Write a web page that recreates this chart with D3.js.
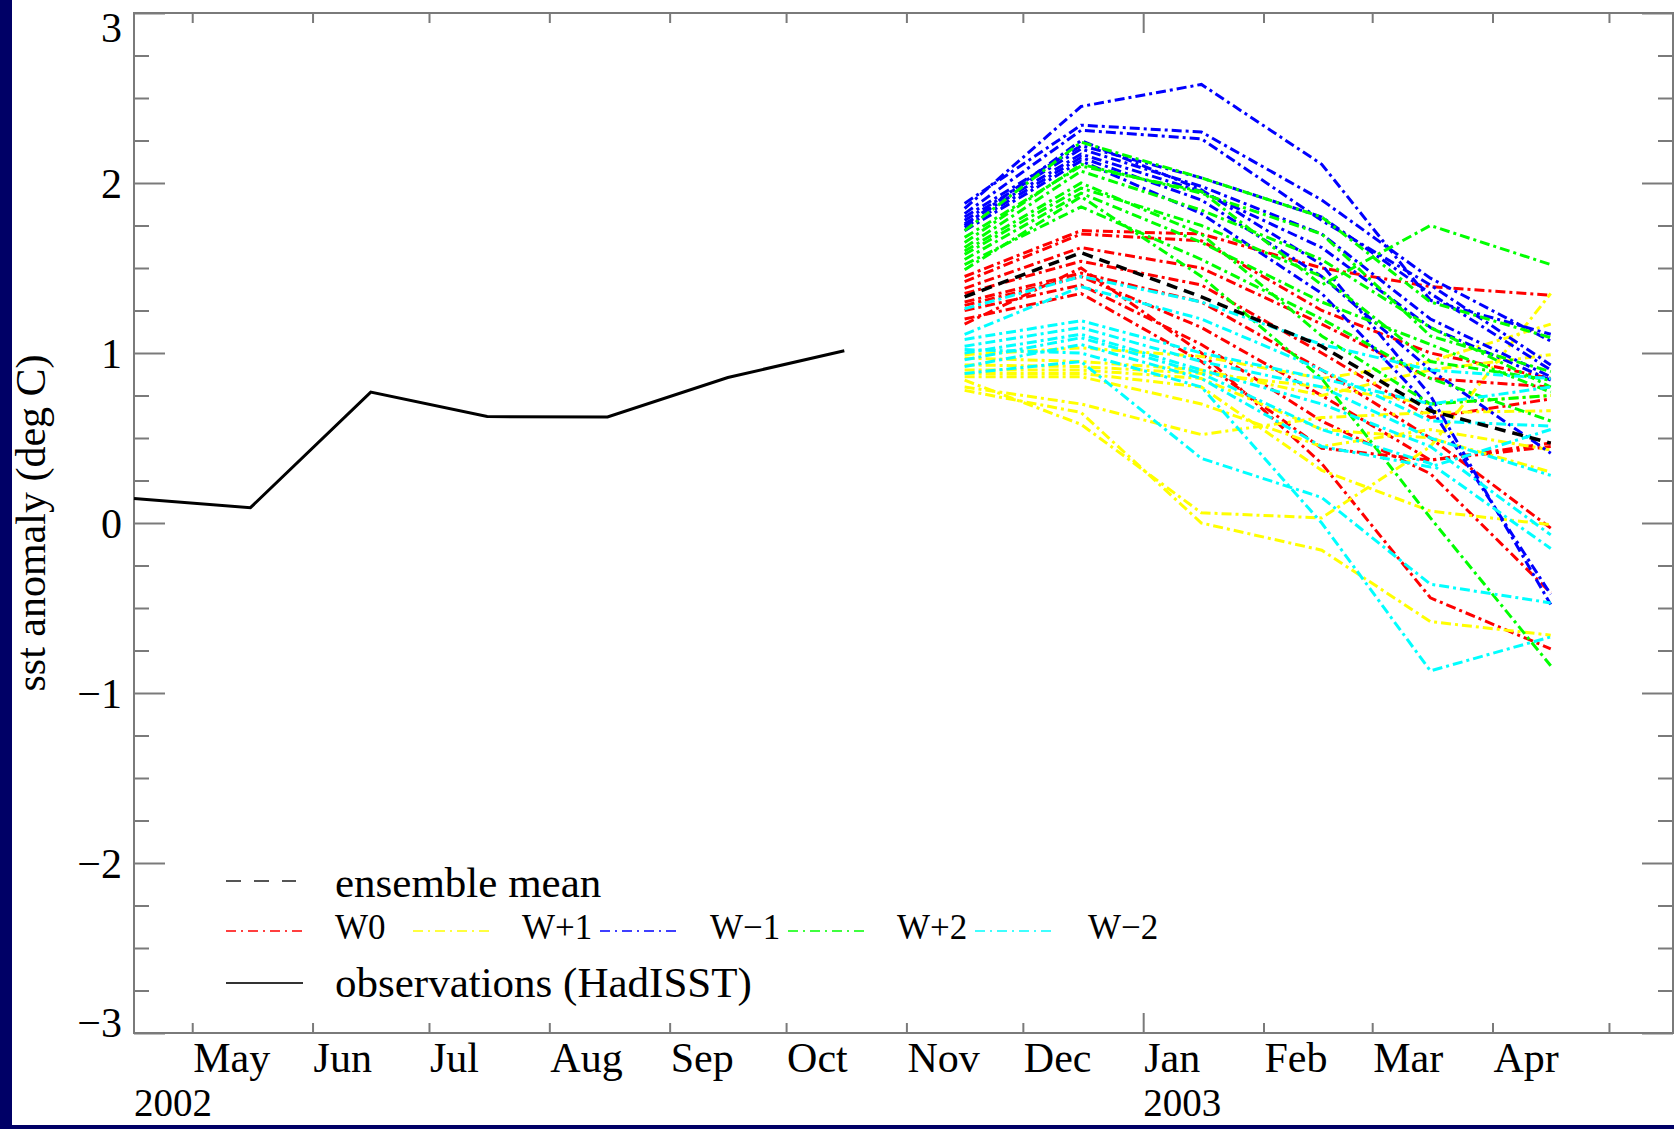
<!DOCTYPE html>
<html><head><meta charset="utf-8">
<script src="https://cdn.jsdelivr.net/npm/d3@7"></script>
<style>html,body{margin:0;padding:0;background:#000066;}svg{display:block}</style>
</head><body><svg id="c" width="1674" height="1129"></svg>
<script>
// ---------- data ----------
const obsDates = ["2002-04-16","2002-05-16","2002-06-16","2002-07-16","2002-08-16","2002-09-16","2002-10-16"];
const obsValues = [0.144, 0.09, 0.77, 0.626, 0.624, 0.856, 1.013];

const fcDates = ["2002-11-16","2002-12-16","2003-01-16","2003-02-16","2003-03-16","2003-04-16"];
const meanValues = [1.33, 1.59, 1.33, 1.04, 0.66, 0.47];

const w0 = [
  [1.45, 1.72, 1.70, 1.50, 1.39, 1.34],
  [1.42, 1.70, 1.66, 1.25, 1.00, 0.85],
  [1.38, 1.62, 1.50, 1.17, 0.85, 0.80],
  [1.35, 1.54, 1.40, 1.00, 0.62, 0.73],
  [1.30, 1.47, 1.30, 0.90, 0.50, -0.03],
  [1.28, 1.45, 1.15, 0.75, 0.37, 0.47],
  [1.25, 1.40, 1.05, 0.60, 0.29, -0.41],
  [1.20, 1.35, 0.95, 0.44, 0.37, 0.45],
  [1.17, 1.50, 1.00, 0.35, -0.44, -0.74]
];
const wPlus1 = [
  [0.99, 1.03, 0.98, 0.85, 0.95, 1.17],
  [0.97, 0.95, 0.90, 0.75, 0.90, 0.99],
  [0.93, 0.92, 0.88, 0.80, 0.70, 0.75],
  [0.90, 0.90, 0.85, 0.55, 0.50, 0.30],
  [0.88, 0.88, 0.80, 0.31, 0.07, -0.01],
  [0.86, 0.86, 0.70, 0.45, 0.55, 0.43],
  [0.80, 0.70, 0.52, 0.62, 0.65, 0.66],
  [0.84, 0.58, 0.06, 0.03, 0.45, 1.35],
  [0.78, 0.65, 0.00, -0.16, -0.58, -0.66]
];
const wMinus1 = [
  [1.85, 2.45, 2.58, 2.11, 1.31, 1.11],
  [1.88, 2.34, 2.30, 1.90, 1.44, 1.07],
  [1.82, 2.31, 2.26, 1.78, 1.40, 0.93],
  [1.80, 2.22, 2.03, 1.80, 1.35, 0.90],
  [1.78, 2.20, 1.98, 1.70, 1.20, 0.86],
  [1.76, 2.17, 1.95, 1.62, 1.15, 0.84],
  [1.74, 2.15, 1.90, 1.45, 0.90, 0.41],
  [1.72, 2.13, 1.82, 1.35, 0.68, -0.42],
  [1.75, 2.25, 1.96, 1.52, 0.75, -0.48]
];
const wPlus2 = [
  [1.68, 2.10, 1.95, 1.40, 1.75, 1.52],
  [1.72, 2.24, 2.03, 1.80, 1.30, 1.09],
  [1.65, 2.11, 1.94, 1.70, 1.10, 0.89],
  [1.62, 2.07, 1.84, 1.55, 1.15, 0.80],
  [1.58, 1.97, 1.75, 1.45, 0.95, 0.84],
  [1.55, 1.94, 1.65, 1.30, 1.05, 0.77],
  [1.52, 1.86, 1.55, 1.20, 0.85, 0.60],
  [1.49, 1.92, 1.45, 0.85, 0.03, -0.84],
  [1.60, 2.00, 1.70, 1.10, 0.70, 0.75]
];
const wMinus2 = [
  [1.26, 1.45, 1.30, 1.05, 0.90, 0.85],
  [1.11, 1.39, 1.20, 0.90, 0.60, 0.57],
  [1.08, 1.19, 1.00, 0.85, 0.70, 0.80],
  [1.04, 1.15, 0.95, 0.80, 0.50, 0.28],
  [1.00, 1.11, 0.90, 0.70, 0.45, -0.07],
  [0.96, 1.09, 0.88, 0.55, 0.35, -0.15],
  [0.92, 1.05, 0.85, 0.45, 0.33, 0.55],
  [0.88, 0.95, 0.38, 0.15, -0.36, -0.47],
  [1.02, 1.00, 0.80, 0.00, -0.87, -0.67]
];

const groupNames = ["W0", "W+1", "W\u22121", "W+2", "W\u22122"];
const groupColors = ["#ff0000", "#ffff00", "#0000ff", "#00ff00", "#00ffff"];
const groupData = [w0, wPlus1, wMinus1, wPlus2, wMinus2];

const yTickValues = [-3, -2, -1, 0, 1, 2, 3];
const monthLabels = ["May","Jun","Jul","Aug","Sep","Oct","Nov","Dec","Jan","Feb","Mar","Apr"];
const yearLabels = ["2002", "2003"];

// ---------- drawing ----------
const FONT = "'Liberation Serif','Times New Roman',Times,serif";
const svg = d3.select("#c");
svg.append("rect").attr("x", 12).attr("y", 0).attr("width", 1662).attr("height", 1125).attr("fill", "#fff");

const parse = d3.utcParse("%Y-%m-%d");
const x = d3.scaleUtc()
  .domain([new Date(Date.UTC(2002,3,16)), new Date(Date.UTC(2003,4,17,12))])
  .range([134, 1673]);
const y = d3.scaleLinear().domain([-3, 3]).range([1033, 13]);

const axisColor = "#7a7a7a";
const monthTicks = d3.utcMonth.range(new Date(Date.UTC(2002,4,1)), new Date(Date.UTC(2003,4,2)));
const isJan = d => d.getUTCMonth() === 0;

const minorVals = d3.range(-3, 3.001, 0.25).filter(v => Math.abs(v - Math.round(v)) > 1e-6);
function styleAxis(g) {
  g.select(".domain").remove();
  g.selectAll(".tick line").attr("stroke", axisColor).attr("stroke-width", 2);
}
svg.append("g").attr("transform", "translate(134,0)")
  .call(d3.axisLeft(y).tickValues(minorVals).tickSize(-15).tickFormat("")).call(styleAxis);
svg.append("g").attr("transform", "translate(1673,0)")
  .call(d3.axisRight(y).tickValues(minorVals).tickSize(-15).tickFormat("")).call(styleAxis);
svg.append("g").attr("transform", "translate(1673,0)")
  .call(d3.axisRight(y).tickValues(yTickValues).tickSize(-31).tickFormat("")).call(styleAxis);

const yTop = y(3), yBot = y(-3);
const yAxisG = svg.append("g").attr("transform", "translate(134,0)")
  .call(d3.axisLeft(y).tickValues(yTickValues).tickSize(-31).tickPadding(12).tickFormat(d3.format("d")))
  .call(styleAxis);
yAxisG.selectAll(".tick text")
  .attr("font-family", FONT).attr("font-size", 42).attr("fill", "#000")
  .attr("dy", "0.34em")
  .attr("y", d => Math.min(Math.max(y(d), yTop + 14), yBot - 11) - y(d));

const xb = svg.append("g").attr("transform", `translate(0,${yBot})`)
  .call(d3.axisBottom(x).tickValues(monthTicks).tickSize(-10).tickFormat("")).call(styleAxis);
xb.selectAll(".tick line").attr("y2", d => isJan(d) ? -20 : -10);
const xt = svg.append("g").attr("transform", `translate(0,${yTop})`)
  .call(d3.axisTop(x).tickValues(monthTicks).tickSize(-10).tickFormat("")).call(styleAxis);
xt.selectAll(".tick line").attr("y2", d => isJan(d) ? 20 : 10);

svg.append("rect").attr("x", 134).attr("y", yTop).attr("width", 1673 - 134).attr("height", yBot - yTop)
  .attr("fill", "none").attr("stroke", axisColor).attr("stroke-width", 2);

svg.append("g").selectAll("text").data(monthLabels).join("text")
  .attr("x", (d, i) => x(monthTicks[i]) + 1).attr("y", 1072)
  .attr("font-family", FONT).attr("font-size", 42).attr("fill", "#000")
  .text(d => d);
const yearStarts = [x.domain()[0], new Date(Date.UTC(2003,0,1))];
svg.append("g").selectAll("text").data(yearLabels).join("text")
  .attr("x", (d, i) => x(yearStarts[i])).attr("y", 1116)
  .attr("font-family", FONT).attr("font-size", 39).attr("fill", "#000")
  .text(d => d);

svg.append("text").attr("transform", `translate(45,${(yTop + yBot) / 2}) rotate(-90)`)
  .attr("text-anchor", "middle").attr("font-family", FONT).attr("font-size", 42).attr("fill", "#000")
  .text("sst anomaly (deg C)");

const fcD = fcDates.map(parse);
const line = d3.line().x((d, i) => x(fcD[i])).y(d => y(d));
const memberDash = "10,4,3,4";
groupData.forEach((grp, gi) => {
  svg.append("g").selectAll("path").data(grp).join("path")
    .attr("d", line).attr("fill", "none")
    .attr("stroke", groupColors[gi]).attr("stroke-width", 3)
    .attr("stroke-dasharray", memberDash);
});
svg.append("path").datum(meanValues).attr("d", line).attr("fill", "none")
  .attr("stroke", "#000").attr("stroke-width", 3.5).attr("stroke-dasharray", "11,7");

const obsD = obsDates.map(parse);
svg.append("path").datum(obsValues)
  .attr("d", d3.line().x((d, i) => x(obsD[i])).y(d => y(d)))
  .attr("fill", "none").attr("stroke", "#000").attr("stroke-width", 3).attr("stroke-linejoin", "miter");

const lg = svg.append("g");
lg.append("line").attr("x1", 226).attr("x2", 296).attr("y1", 881).attr("y2", 881)
  .attr("stroke", "#555").attr("stroke-width", 2).attr("stroke-dasharray", "15,13");
lg.append("text").attr("x", 335).attr("y", 897).attr("font-family", FONT).attr("font-size", 43).text("ensemble mean");
const legSampleX = [226, 413, 600, 788, 975];
const legTextX = [335, 522, 710, 897, 1088];
groupNames.forEach((n, i) => {
  lg.append("line").attr("x1", legSampleX[i]).attr("x2", legSampleX[i] + 77).attr("y1", 931).attr("y2", 931)
    .attr("stroke", groupColors[i]).attr("stroke-width", 1.6).attr("stroke-dasharray", "10,5,2,5");
  lg.append("text").attr("x", legTextX[i]).attr("y", 939).attr("font-family", FONT).attr("font-size", 35).text(n);
});
lg.append("line").attr("x1", 226).attr("x2", 303).attr("y1", 983).attr("y2", 983)
  .attr("stroke", "#333").attr("stroke-width", 2);
lg.append("text").attr("x", 335).attr("y", 997).attr("font-family", FONT).attr("font-size", 43).text("observations (HadISST)");

svg.append("rect").attr("x", 0).attr("y", 1125).attr("width", 1674).attr("height", 4).attr("fill", "#000066");
</script></body></html>
